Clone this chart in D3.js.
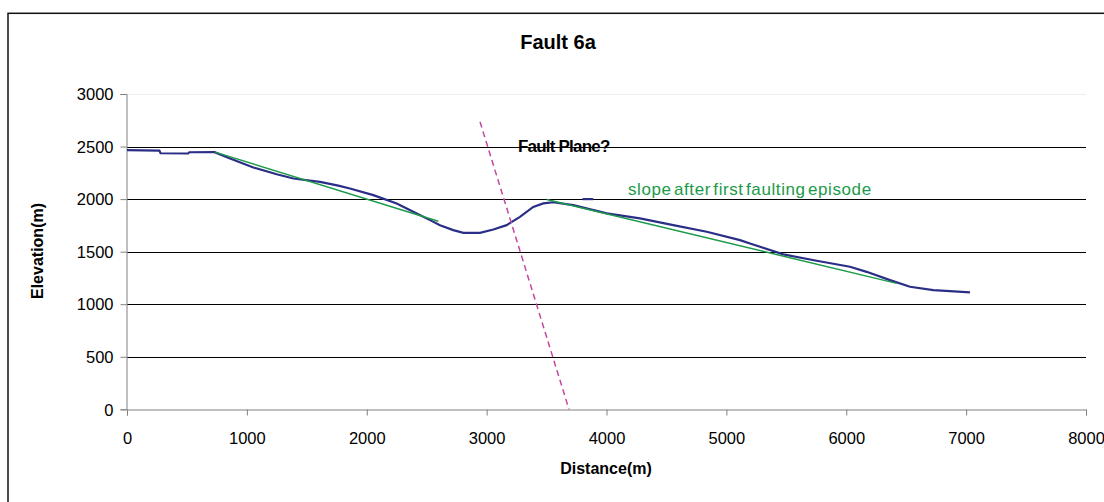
<!DOCTYPE html>
<html>
<head>
<meta charset="utf-8">
<script src="https://cdn.jsdelivr.net/npm/d3@7"></script>
<style>
  html, body { margin: 0; padding: 0; background: #fff; }
  svg { display: block; font-family: "Liberation Sans", Arial, sans-serif; }
</style>
</head>
<body>
<svg id="chart" width="1104" height="502"></svg>
<script>
// ---- data ----
const profileDistance = [0, 270, 280, 510, 520, 730, 860, 1054, 1249, 1388, 1610, 1763, 1860, 2055, 2250, 2417, 2528, 2611, 2722, 2806, 2945, 3056, 3167, 3278, 3389, 3473, 3556, 3723, 4002, 4279, 4557, 4836, 5114, 5197, 5281, 5475, 5753, 6031, 6170, 6365, 6532, 6726, 6865, 7032];
const profileElevation = [2466, 2462, 2436, 2434, 2446, 2447, 2387, 2301, 2237, 2196, 2164, 2128, 2101, 2038, 1959, 1864, 1800, 1752, 1705, 1679, 1679, 1711, 1752, 1831, 1926, 1959, 1970, 1943, 1864, 1816, 1752, 1689, 1610, 1578, 1546, 1474, 1413, 1356, 1308, 1229, 1166, 1134, 1125, 1112];
const strayDistance = [3800, 3890];
const strayElevation = [2000, 2000];
const slope1Distance = [734, 2597];
const slope1Elevation = [2447, 1790];
const slope2Distance = [3501, 6421];
const slope2Elevation = [1997, 1198];
const faultDistance = [2945, 3687];
const faultElevation = [2735, 0];
const xTicks = [0, 1000, 2000, 3000, 4000, 5000, 6000, 7000, 8000];
const yTicks = [0, 500, 1000, 1500, 2000, 2500, 3000];
const titleText = "Fault 6a";
const xLabel = "Distance(m)";
const yLabel = "Elevation(m)";
const faultLabel = "Fault Plane?";
const slopeLabel = "slope after first faulting episode";

// ---- layout ----
const svg = d3.select("#chart");
const pLeft = 127, pRight = 1086, pTop = 94, pBottom = 409.3;
const x = d3.scaleLinear().domain([0, 8000]).range([pLeft, pRight]);
const y = d3.scaleLinear().domain([0, 3000]).range([pBottom, pTop]);

// outer frame
svg.append("rect").attr("x", 8).attr("y", 13.3).attr("width", 1110).attr("height", 510)
  .attr("fill", "none").attr("stroke", "#111").attr("stroke-width", 1.5);

// gridlines
svg.append("g").selectAll("line").data(yTicks.filter(d => d > 0)).join("line")
  .attr("x1", pLeft).attr("x2", pRight)
  .attr("y1", d => Math.round(y(d)) + 0.5).attr("y2", d => Math.round(y(d)) + 0.5)
  .attr("stroke", d => d === 3000 ? "#eeeeee" : "#000").attr("stroke-width", 1);

// axes
const xAxis = d3.axisBottom(x).tickValues(xTicks).tickSize(6).tickFormat(d3.format("d"));
const yAxis = d3.axisLeft(y).tickValues(yTicks).tickSize(6).tickFormat(d3.format("d"));
const gx = svg.append("g").attr("transform", `translate(0,${Math.round(pBottom) + 0.5})`).call(xAxis);
const gy = svg.append("g").attr("transform", `translate(${pLeft - 0.5},0)`).call(yAxis);
[gx, gy].forEach(g => {
  g.select(".domain").attr("stroke", "#808080");
  g.selectAll(".tick line").attr("stroke", "#808080");
  g.selectAll("text").attr("font-family", "Liberation Sans, Arial, sans-serif").attr("font-size", 16.5).attr("fill", "#000");
});
gx.selectAll("text").attr("dy", 0).attr("y", 34);
gy.selectAll("text").attr("x", -13).attr("dy", "0.35em");

// lines
const line = d3.line().x(d => x(d[0])).y(d => y(d[1]));
const zip = (a, b) => a.map((v, i) => [v, b[i]]);

svg.append("path").datum(zip(profileDistance, profileElevation)).attr("d", line)
  .attr("fill", "none").attr("stroke", "#2b2e86").attr("stroke-width", 2.2);
svg.append("path").datum(zip(strayDistance, strayElevation)).attr("d", line)
  .attr("fill", "none").attr("stroke", "#2b2e86").attr("stroke-width", 2.2);
svg.append("path").datum(zip(slope1Distance, slope1Elevation)).attr("d", line)
  .attr("fill", "none").attr("stroke", "#1b9a48").attr("stroke-width", 1.5);
svg.append("path").datum(zip(slope2Distance, slope2Elevation)).attr("d", line)
  .attr("fill", "none").attr("stroke", "#1b9a48").attr("stroke-width", 1.5);
svg.append("path").datum(zip(faultDistance, faultElevation)).attr("d", line)
  .attr("fill", "none").attr("stroke", "#c4479f").attr("stroke-width", 1.5)
  .attr("stroke-dasharray", "6,4");

// texts
svg.append("text").attr("x", 558).attr("y", 49).attr("text-anchor", "middle")
  .attr("font-weight", "bold").attr("font-size", 20).text(titleText);
svg.append("text").attr("x", 606).attr("y", 474).attr("text-anchor", "middle")
  .attr("font-weight", "bold").attr("font-size", 16).text(xLabel);
svg.append("text").attr("transform", "translate(43,251) rotate(-90)").attr("text-anchor", "middle")
  .attr("font-weight", "bold").attr("font-size", 16).text(yLabel);
svg.append("text").attr("x", 518).attr("y", 151.5).attr("font-weight", "bold")
  .attr("font-size", 17).attr("letter-spacing", -0.8).text(faultLabel);
svg.append("text").attr("x", 628).attr("y", 195).attr("fill", "#1b9a48")
  .attr("font-size", 17).attr("letter-spacing", 0.6).attr("word-spacing", -3).text(slopeLabel);
</script>
</body>
</html>
